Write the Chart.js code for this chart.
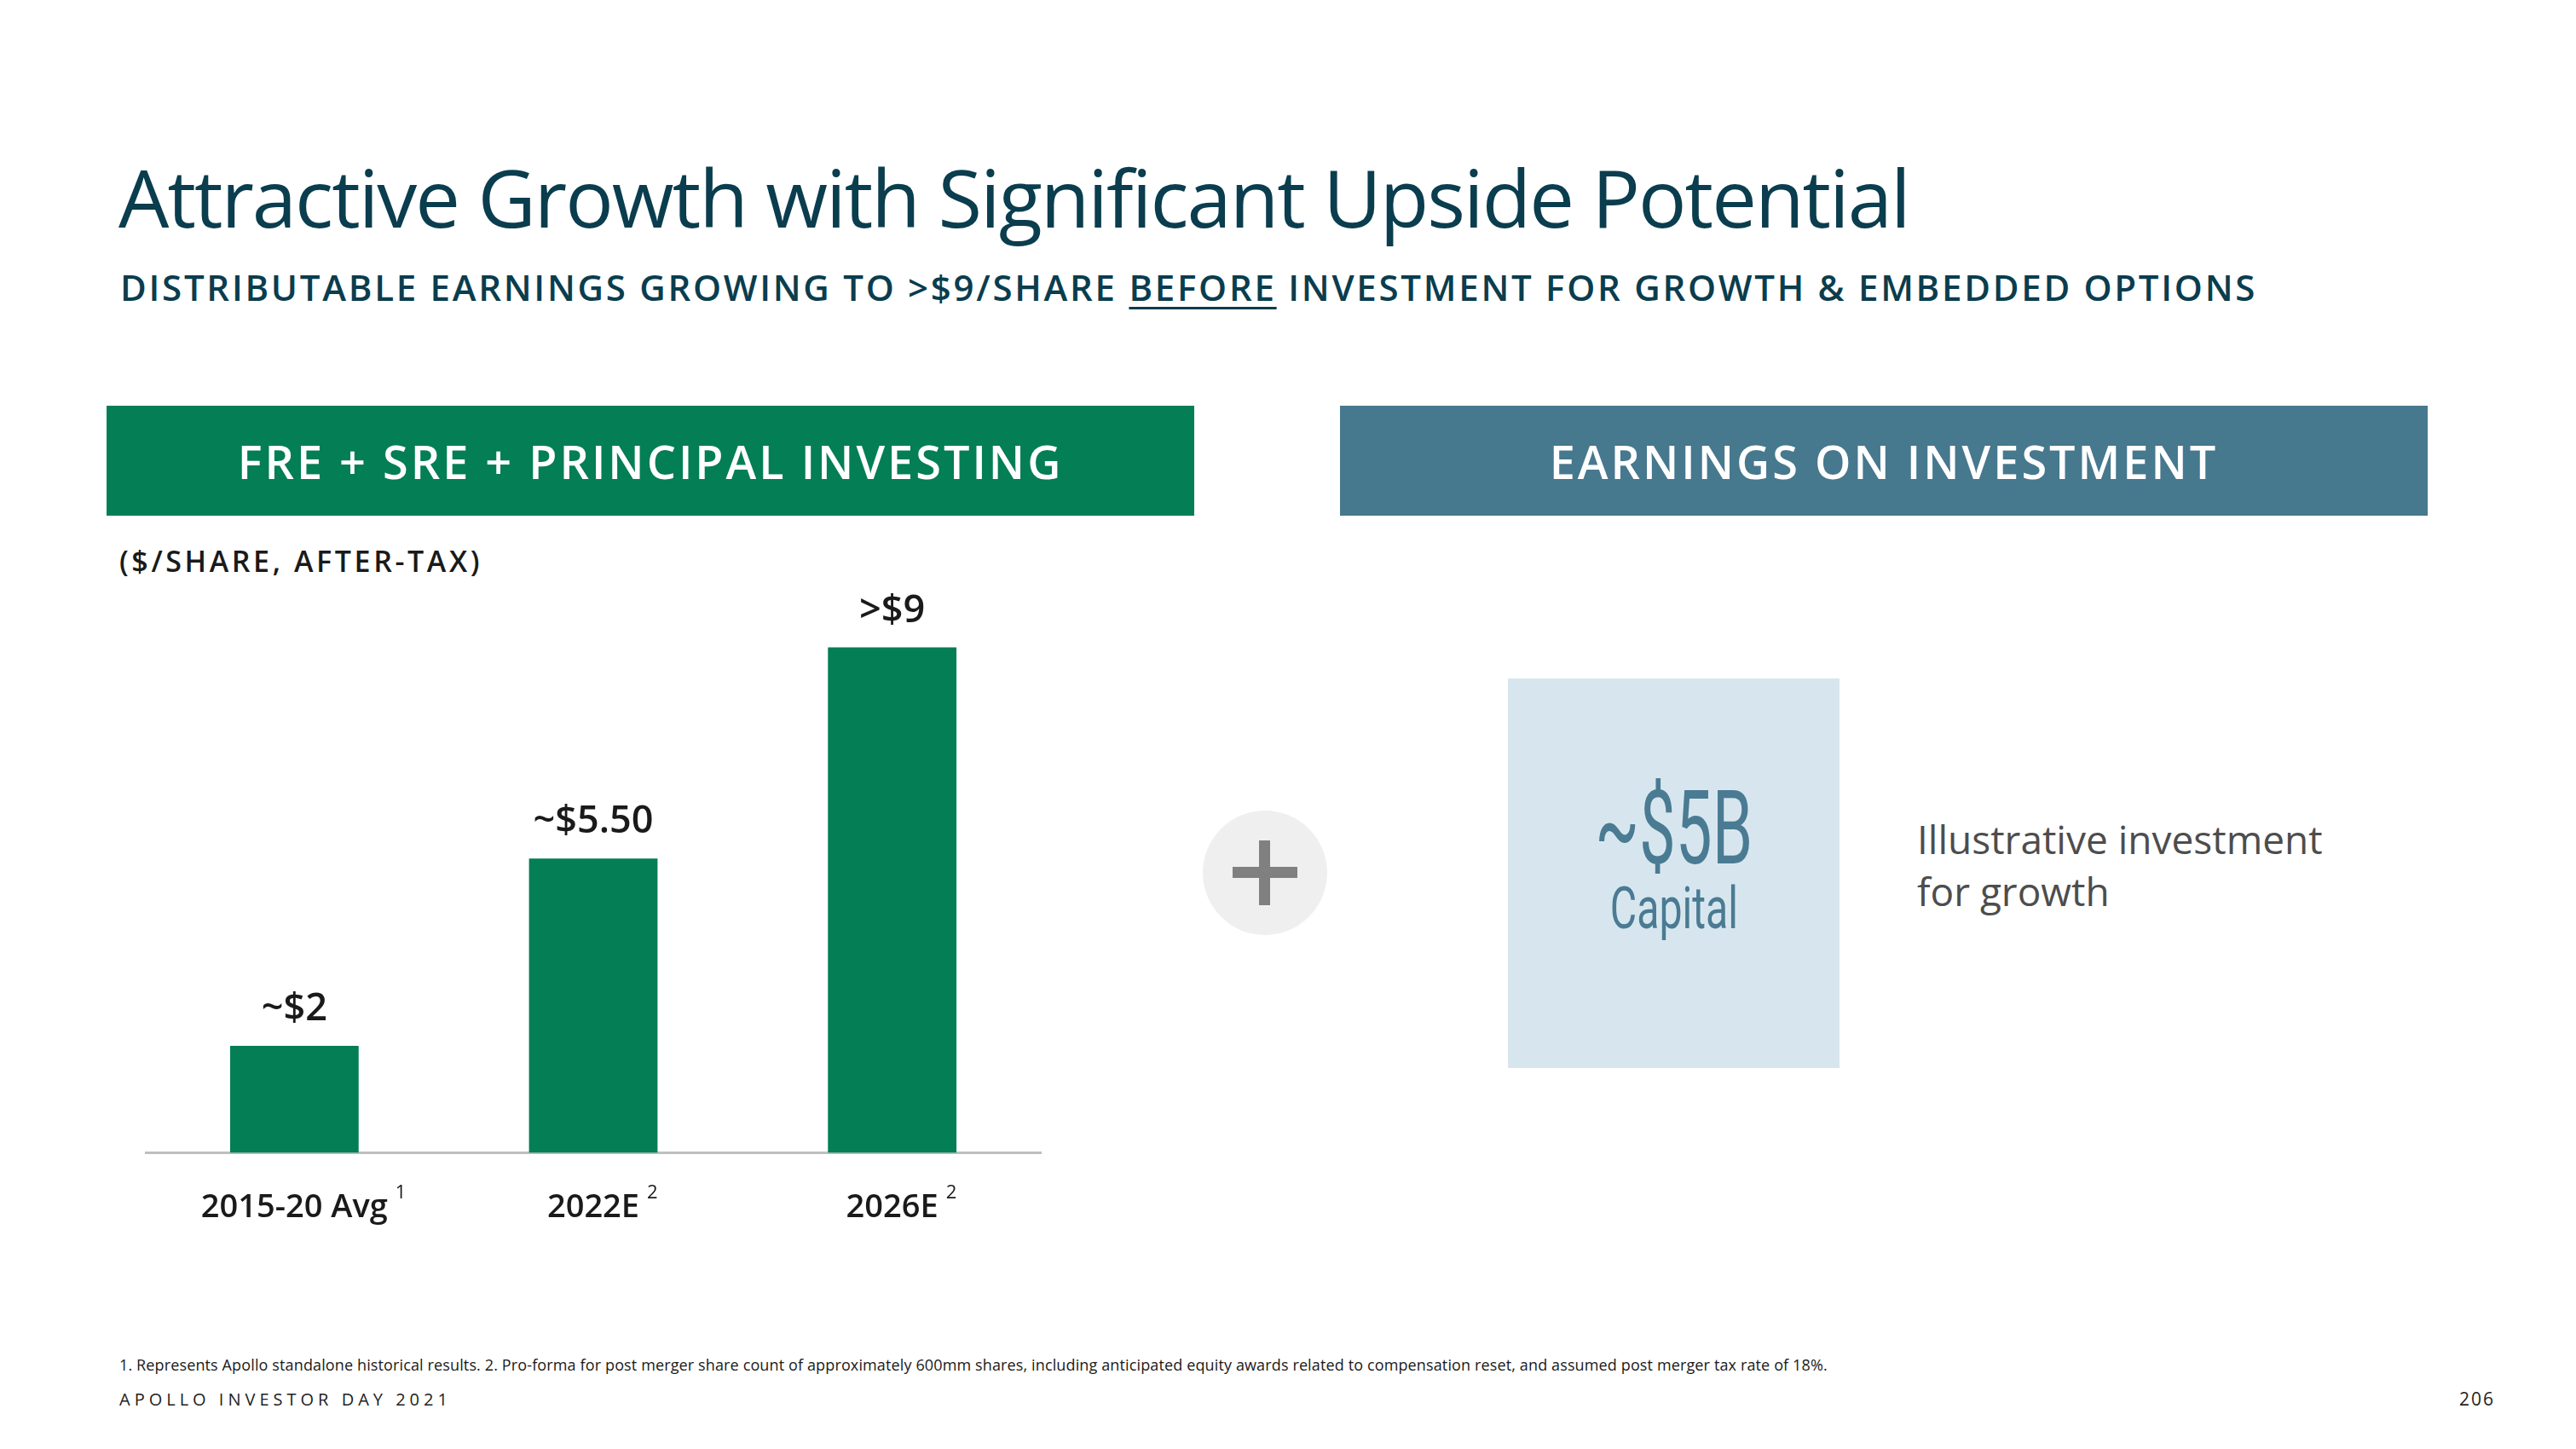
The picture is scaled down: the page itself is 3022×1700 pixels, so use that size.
<!DOCTYPE html>
<html lang="en">
<head>
    <meta charset="UTF-8">
    <title>Attractive Growth with Significant Upside Potential</title>
    <script src="https://cdn.jsdelivr.net/npm/chart.js@4.4.1/dist/chart.umd.min.js"></script>
    <style>
        body {
            margin: 0;
            width: 3022px;
            height: 1700px;
            background: #fff;
            font-family: "Open Sans", "Noto Sans", sans-serif;
            position: relative;
            overflow: hidden;
        }
        .abs {
            position: absolute;
            line-height: 1;
            white-space: nowrap;
        }
        .title {
            left: 139px;
            top: 184px;
            font-size: 94px;
            color: #0a3d4e;
            letter-spacing: -2px;
        }
        .subtitle {
            left: 141px;
            top: 316px;
            font-size: 42px;
            font-weight: 600;
            color: #0a3d4e;
            letter-spacing: 2.73px;
        }
        .subtitle u {
            text-decoration-thickness: 3px;
            text-underline-offset: 7px;
        }
        .head {
            top: 476px;
            height: 129px;
            width: 1276px;
            color: #fff;
            font-size: 54px;
            font-weight: 600;
            letter-spacing: 3px;
            display: flex;
            align-items: center;
            justify-content: center;
        }
        .units {
            left: 140px;
            top: 641px;
            font-size: 34px;
            font-weight: 600;
            color: #1a1a1a;
            letter-spacing: 3.6px;
        }
        .plus {
            left: 1411px;
            top: 951px;
            width: 146px;
            height: 146px;
            border-radius: 50%;
            background: #efefef;
        }
        .plus:before, .plus:after {
            content: "";
            position: absolute;
            background: #808080;
        }
        .plus:before { left: 35px; top: 66px; width: 76px; height: 13px; }
        .plus:after { left: 66px; top: 35px; width: 13px; height: 76px; }
        .capbox {
            left: 1769px;
            top: 796px;
            width: 389px;
            height: 457px;
            background: #d7e6ee;
        }
        .cond {
            color: #4a7b93;
            font-family: Roboto, sans-serif;
            font-weight: 400;
            width: 389px;
            text-align: center;
            left: 0;
            line-height: 0.9;
        }
        .cond span { display: inline-block; }
        .note {
            left: 2249px;
            font-size: 46px;
            color: #4d4d4d;
            font-weight: 400;
        }
        .foot {
            left: 140px;
            top: 1592px;
            font-size: 18px;
            color: #1a1a1a;
            letter-spacing: 0.13px;
        }
        .brand {
            left: 140px;
            top: 1632px;
            font-size: 20px;
            color: #222;
            letter-spacing: 5px;
        }
        .page {
            right: 95px;
            top: 1631px;
            font-size: 21px;
            color: #222;
            letter-spacing: 2px;
        }
        #chartWrap {
            position: absolute;
            left: 170px;
            top: 690px;
            width: 1052px;
            height: 792px;
        }
    </style>
</head>
<body>
    <div class="abs title">Attractive Growth with Significant Upside Potential</div>
    <div class="abs subtitle">DISTRIBUTABLE EARNINGS GROWING TO &gt;$9/SHARE <u>BEFORE</u> INVESTMENT FOR GROWTH &amp; EMBEDDED OPTIONS</div>

    <div class="abs head" style="left:125px;background:#037e55;">FRE + SRE + PRINCIPAL INVESTING</div>
    <div class="abs head" style="left:1572px;background:#46788e;">EARNINGS ON INVESTMENT</div>

    <div class="abs units">($/SHARE, AFTER-TAX)</div>

    <div id="chartWrap"><canvas id="earningsChart"></canvas></div>

    <div class="abs plus"></div>

    <div class="abs capbox">
        <div class="abs cond" style="top:122px;font-size:120px;"><span style="transform:scaleX(0.635);">~$5B</span></div>
        <div class="abs cond" style="top:240px;font-size:68px;"><span style="transform:scaleX(0.71);">Capital</span></div>
    </div>
    <div class="abs note" style="top:961px;">Illustrative investment</div>
    <div class="abs note" style="top:1022px;">for growth</div>

    <div class="abs foot">1. Represents Apollo standalone historical results. 2. Pro-forma for post merger share count of approximately 600mm shares, including anticipated equity awards related to compensation reset, and assumed post merger tax rate of 18%.</div>
    <div class="abs brand">APOLLO INVESTOR DAY 2021</div>
    <div class="abs page">206</div>

    <script>
        // Chart data
        const categories = ['2015-20 Avg', '2022E', '2026E'];
        const footnoteMarks = ['1', '2', '2'];
        const earnings = [2, 5.5, 9.45];
        const valueLabels = ['~$2', '~$5.50', '>$9'];

        const FONT = '"Open Sans", "Noto Sans", sans-serif';

        // Value labels above each bar
        const valueLabelPlugin = {
            id: 'valueLabels',
            afterDatasetsDraw(chart) {
                const ctx = chart.ctx;
                const meta = chart.getDatasetMeta(0);
                ctx.save();
                ctx.font = '600 45px ' + FONT;
                ctx.fillStyle = '#1a1a1a';
                ctx.textAlign = 'center';
                ctx.textBaseline = 'alphabetic';
                meta.data.forEach((bar, i) => {
                    ctx.fillText(valueLabels[i], bar.x, bar.y - 30);
                });
                ctx.restore();
            }
        };

        // Footnote superscripts next to category labels
        const supPlugin = {
            id: 'supMarks',
            afterDraw(chart) {
                const ctx = chart.ctx;
                const xScale = chart.scales.x;
                ctx.save();
                ctx.font = '600 38px ' + FONT;
                const widths = categories.map(c => ctx.measureText(c).width);
                ctx.font = '400 22px ' + FONT;
                ctx.fillStyle = '#1a1a1a';
                ctx.textAlign = 'left';
                ctx.textBaseline = 'alphabetic';
                categories.forEach((c, i) => {
                    const x = xScale.getPixelForTick(i) + widths[i] / 2 + 9;
                    ctx.fillText(footnoteMarks[i], x, chart.chartArea.bottom + 54);
                });
                ctx.restore();
            }
        };

        const ctx = document.getElementById('earningsChart').getContext('2d');
        new Chart(ctx, {
            type: 'bar',
            data: {
                labels: categories,
                datasets: [{
                    data: earnings,
                    backgroundColor: '#037e55',
                    borderWidth: 0,
                    categoryPercentage: 1,
                    barPercentage: 0.43
                }]
            },
            options: {
                responsive: true,
                maintainAspectRatio: false,
                animation: false,
                layout: { padding: { top: 35, left: 0, right: 0, bottom: 0 } },
                plugins: {
                    legend: { display: false },
                    tooltip: { enabled: false }
                },
                scales: {
                    y: {
                        display: false,
                        min: 0,
                        max: 10
                    },
                    x: {
                        grid: { display: false, drawTicks: false },
                        border: { display: true, color: '#bfbfbf', width: 3 },
                        ticks: {
                            color: '#1a1a1a',
                            padding: 42,
                            font: { family: FONT, size: 38, weight: '600' }
                        }
                    }
                }
            },
            plugins: [valueLabelPlugin, supPlugin]
        });
    </script>
</body>
</html>
